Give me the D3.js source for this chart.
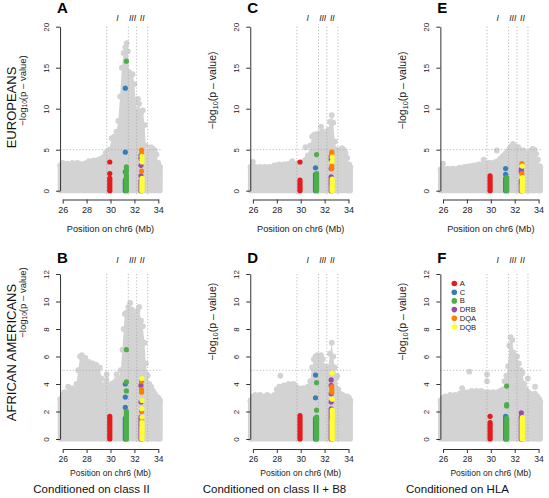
<!DOCTYPE html>
<html><head><meta charset="utf-8">
<script src="https://cdn.jsdelivr.net/npm/d3@7"></script>
<style>
body{margin:0;background:#fff;}
svg{display:block;font-family:"Liberation Sans",Arial,Helvetica,sans-serif;}
</style></head><body>
<svg id="chart" width="549" height="498"></svg>
<script>
// ---------------- DATA ----------------
const positionTicks = [26, 28, 30, 32, 34];
const yTicksEuropeans = [0, 5, 10, 15, 20];
const yTicksAfrican = [0, 2, 4, 6, 8, 10, 12];
const significanceLine = 5;
const regionBounds = [29.68, 31.49, 32.19, 33.11];
const regionLabels = ["I", "III", "II"];
const genes = ["A", "C", "B", "DRB", "DQA", "DQB"];
const genePositions = [29.94, 31.24, 31.33, 32.55, 32.60, 32.64];
const geneColors = ["#E41A1C", "#377EB8", "#4DAF4A", "#984EA3", "#FF7F00", "#FFFF33"];
const panelLetters = ["A", "B", "C", "D", "E", "F"];
const populations = ["EUROPEANS", "AFRICAN AMERICANS"];
const conditions = ["Conditioned on class II", "Conditioned on class II + B8", "Conditioned on HLA"];

// upper envelope of the grey SNP cloud: [position Mb, -log10 p]
const cloudA = [[25.8,3.1],[26.0,3.4],[26.2,3.2],[26.4,3.3],[26.6,3.0],[26.8,3.4],[27.0,3.2],[27.2,3.4],[27.4,3.3],[27.6,3.1],[27.8,3.3],[28.0,3.4],[28.2,3.6],[28.4,3.4],[28.6,3.7],[28.8,3.6],[29.0,3.8],[29.2,3.9],[29.4,4.1],[29.6,4.6],[29.75,4.0],[29.9,5.0],[30.1,6.4],[30.3,6.6],[30.5,7.2],[30.65,8.5],[30.8,11.5],[30.95,15.0],[31.1,16.8],[31.25,17.5],[31.35,18.0],[31.45,17.0],[31.55,14.5],[31.7,14.0],[31.85,14.2],[32.0,13.0],[32.1,11.0],[32.2,9.6],[32.3,11.2],[32.4,10.6],[32.55,9.4],[32.7,9.8],[32.85,8.0],[32.95,5.5],[33.1,4.3],[33.25,4.8],[33.4,5.3],[33.55,5.1],[33.7,4.9],[33.85,4.4],[34.0,3.4],[34.15,2.9]];
const cloudB = [[25.8,2.9],[26.0,3.2],[26.15,3.4],[26.3,3.3],[26.45,3.8],[26.6,3.4],[26.8,3.7],[27.0,3.6],[27.15,4.0],[27.3,5.0],[27.45,6.0],[27.6,6.1],[27.75,5.8],[27.9,5.9],[28.05,5.5],[28.2,5.6],[28.35,5.3],[28.5,5.5],[28.65,5.2],[28.8,5.4],[28.95,5.1],[29.1,5.2],[29.25,4.4],[29.4,3.7],[29.55,4.0],[29.8,3.9],[29.95,3.8],[30.1,4.0],[30.3,4.1],[30.5,4.3],[30.7,4.4],[30.85,5.0],[31.0,6.5],[31.1,8.0],[31.2,9.1],[31.35,9.2],[31.5,9.6],[31.65,9.9],[31.8,9.4],[31.95,9.0],[32.1,8.6],[32.25,9.3],[32.4,9.6],[32.55,8.6],[32.7,8.2],[32.85,7.0],[32.95,5.5],[33.1,4.6],[33.25,4.0],[33.4,3.8],[33.55,3.5],[33.7,3.3],[33.85,3.1],[34.0,3.0],[34.15,2.8]];
const cloudC = [[25.8,2.9],[26.0,3.0],[26.2,2.9],[26.4,2.8],[26.6,2.9],[26.8,2.8],[27.0,2.9],[27.2,2.8],[27.4,2.9],[27.6,2.8],[27.8,3.1],[28.0,3.1],[28.2,3.2],[28.4,3.1],[28.6,3.2],[28.8,3.2],[29.0,3.3],[29.2,3.2],[29.4,3.3],[29.6,3.2],[29.8,3.4],[30.0,3.3],[30.2,3.5],[30.4,3.8],[30.6,4.3],[30.8,5.5],[30.95,6.6],[31.1,6.8],[31.25,6.9],[31.4,6.7],[31.55,7.0],[31.7,7.8],[31.85,7.2],[32.0,6.6],[32.15,6.9],[32.3,7.4],[32.45,8.4],[32.6,9.2],[32.72,8.3],[32.85,6.0],[33.0,5.0],[33.15,4.4],[33.3,4.9],[33.45,5.2],[33.6,5.0],[33.75,4.6],[33.9,4.0],[34.05,3.2],[34.15,2.9]];
const cloudD = [[25.8,2.8],[26.0,3.1],[26.2,3.2],[26.4,3.1],[26.6,3.2],[26.8,3.0],[27.0,3.1],[27.2,3.2],[27.4,3.0],[27.6,3.1],[27.8,3.2],[28.0,3.6],[28.2,3.8],[28.4,3.7],[28.6,3.9],[28.8,3.8],[29.0,4.0],[29.2,3.9],[29.4,4.0],[29.6,3.8],[29.8,3.7],[30.0,3.6],[30.2,3.7],[30.4,3.6],[30.6,3.8],[30.8,4.2],[30.95,5.2],[31.1,5.8],[31.25,6.0],[31.4,6.1],[31.55,5.9],[31.7,6.1],[31.85,5.8],[32.0,5.3],[32.15,4.9],[32.3,5.2],[32.45,6.2],[32.6,7.0],[32.72,6.0],[32.85,5.2],[33.0,4.5],[33.15,3.6],[33.3,3.3],[33.5,3.2],[33.7,3.1],[33.9,3.1],[34.05,3.0],[34.15,2.8]];
const cloudE = [[25.8,2.6],[26.0,2.7],[26.2,2.6],[26.4,2.7],[26.6,2.6],[26.8,2.7],[27.0,2.6],[27.2,2.7],[27.4,2.8],[27.6,2.7],[27.8,2.9],[28.0,2.9],[28.2,3.0],[28.4,3.0],[28.6,3.1],[28.8,3.1],[29.0,3.2],[29.2,3.2],[29.4,3.2],[29.6,3.3],[29.8,3.4],[30.0,3.4],[30.2,3.3],[30.4,3.5],[30.6,3.6],[30.8,3.9],[31.0,4.2],[31.2,4.5],[31.4,4.8],[31.55,5.1],[31.7,5.4],[31.85,5.7],[32.0,5.5],[32.15,5.0],[32.3,5.3],[32.45,5.0],[32.6,4.8],[32.75,4.9],[32.9,4.6],[33.05,4.0],[33.2,4.4],[33.35,4.9],[33.5,5.1],[33.65,5.0],[33.8,4.5],[33.95,3.8],[34.1,3.0],[34.15,2.8]];
const cloudF = [[25.8,2.8],[26.0,3.0],[26.2,3.1],[26.4,3.0],[26.6,3.2],[26.8,3.1],[27.0,3.2],[27.2,3.1],[27.4,3.3],[27.6,3.7],[27.8,3.4],[28.0,3.3],[28.2,3.4],[28.4,3.5],[28.6,3.4],[28.8,3.5],[29.0,3.4],[29.2,3.5],[29.4,3.4],[29.6,3.3],[29.8,3.4],[30.0,3.3],[30.2,3.4],[30.4,3.3],[30.6,3.4],[30.8,3.5],[31.0,3.6],[31.15,4.2],[31.3,4.6],[31.45,5.3],[31.55,6.8],[31.65,7.4],[31.8,7.2],[31.9,6.3],[32.05,6.0],[32.2,6.0],[32.35,5.5],[32.5,5.0],[32.65,4.8],[32.8,4.0],[32.95,3.6],[33.1,3.4],[33.3,3.3],[33.5,3.2],[33.7,3.3],[33.9,3.1],[34.05,2.9],[34.15,2.7]];

// isolated grey SNPs above the cloud
const outliersA = [];
const outliersB = [[29.68,4.7],[29.68,4.3],[30.5,4.7],[33.05,4.7]];
const outliersC = [[26.0,3.5],[29.3,3.6],[30.4,5.3]];
const outliersD = [[28.3,4.6],[33.05,4.6]];
const outliersE = [[26.0,3.3],[29.4,3.8],[30.5,4.9]];
const outliersF = [[28.2,4.9],[29.68,4.7],[29.68,4.2],[33.1,4.4],[33.7,3.8]];

// HLA alleles per gene (order of genes): top of the dense stack, and single alleles above it
const denseA = [1.5, 1.3, 1.9, 1.2, 1.0, 1.5];
const dotsA = [[2.1, 3.5], [12.5, 4.7, 2.3], [15.8, 2.9, 2.6, 2.3], [4.3, 3.9, 3.1, 1.8], [4.95, 4.5, 2.4], [4.2, 3.8, 3.5]];
const denseB = [1.65, 1.5, 2.0, 1.6, 0.8, 1.2];
const dotsB = [[], [4.0, 3.05, 2.3], [6.5, 4.15, 3.5], [3.9, 2.7], [4.2, 3.6, 3.4, 2.0, 1.3], [4.4, 2.8, 2.2, 1.6]];
const denseC = [1.3, 2.0, 2.1, 1.7, 0.5, 1.4];
const dotsC = [[3.5], [2.8], [4.4], [4.2, 3.8, 2.7], [4.7, 4.4, 3.0, 2.7], [4.1, 3.6]];
const denseD = [1.7, 1.5, 1.6, 2.2, 1.3, 2.1];
const dotsD = [[], [4.65, 3.0], [4.1, 2.1], [4.3, 3.9, 3.3, 2.7], [3.8, 3.6, 3.4, 1.2], [4.8, 2.9]];
const denseE = [1.8, 1.5, 1.6, 1.2, 0.6, 1.6];
const dotsE = [[], [2.7, 2.0], [], [2.6, 2.3], [3.3, 2.1], [3.0]];
const denseF = [1.2, 1.5, 1.5, 1.6, 1.3, 1.55];
const dotsF = [[1.65], [1.65], [3.85, 2.5, 2.4], [1.9], [1.35], []];

const clouds = [cloudA, cloudB, cloudC, cloudD, cloudE, cloudF];
const outliers = [outliersA, outliersB, outliersC, outliersD, outliersE, outliersF];
const denses = [denseA, denseB, denseC, denseD, denseE, denseF];
const dots = [dotsA, dotsB, dotsC, dotsD, dotsE, dotsF];

// ---------------- LAYOUT ----------------
const svg = d3.select("#chart");
const FONT = '"Liberation Sans",Arial,Helvetica,sans-serif';
const GREY = "#D3D3D3";
const R = 2.6;
const colX26 = [62.7, 252.9, 443.0];
const figCenters = [91.5, 274.5, 457.5];
const mbWidth = 95.6; // 26 -> 34
const rowY = [{y0: 190.7, yMax: 26.7, axisY: 199.5, ticks: yTicksEuropeans},
              {y0: 439.0, yMax: 274.0, axisY: 449.0, ticks: yTicksAfrican}];

panelLetters.forEach((letter, i) => {
  const row = i % 2, col = Math.floor(i / 2);
  const L = rowY[row];
  const ticks = L.ticks;
  const x = d3.scaleLinear().domain([26, 34]).range([colX26[col], colX26[col] + mbWidth]);
  const y = d3.scaleLinear().domain([0, ticks[ticks.length - 1]]).range([L.y0, L.yMax]);
  const axisX = x(25.78);
  const g = svg.append("g");

  // grey cloud
  const cloud = clouds[i];
  const area = d3.area().x(d => x(d[0])).y0(y(0) + R).y1(d => y(d[1]));
  g.append("path").datum(cloud).attr("d", area).attr("fill", GREY);
  [cloud[0], cloud[cloud.length - 1]].forEach(d => {
    g.append("line").attr("x1", x(d[0])).attr("x2", x(d[0]))
      .attr("y1", y(0)).attr("y2", y(d[1]))
      .attr("stroke", GREY).attr("stroke-width", 2 * R).attr("stroke-linecap", "round");
  });
  g.selectAll(".cl").data(cloud).join("circle")
    .attr("cx", d => x(d[0])).attr("cy", d => y(d[1])).attr("r", R + 0.3).attr("fill", GREY);
  g.selectAll(".ol").data(outliers[i]).join("circle")
    .attr("cx", d => x(d[0])).attr("cy", d => y(d[1])).attr("r", R + 0.3).attr("fill", GREY);

  // reference lines
  const refStyle = sel => sel.attr("stroke", "#a8a8a8").attr("stroke-width", 0.8).attr("stroke-dasharray", "1.2,2");
  g.append("line").attr("x1", axisX).attr("x2", x(34.25))
    .attr("y1", y(significanceLine)).attr("y2", y(significanceLine)).call(refStyle);
  regionBounds.forEach(b => {
    g.append("line").attr("x1", x(b)).attr("x2", x(b))
      .attr("y1", L.yMax).attr("y2", y(0) + 4).call(refStyle);
  });

  // alleles
  genes.forEach((gname, k) => {
    const px = x(genePositions[k]);
    g.append("line").attr("x1", px).attr("x2", px)
      .attr("y1", y(0)).attr("y2", y(denses[i][k]))
      .attr("stroke", geneColors[k]).attr("stroke-width", 2 * R).attr("stroke-linecap", "round");
    g.selectAll(".g" + k).data(dots[i][k]).join("circle")
      .attr("cx", px).attr("cy", v => y(v)).attr("r", R).attr("fill", geneColors[k]);
  });

  // region labels
  regionLabels.forEach((lab, k) => {
    g.append("text").attr("x", x((regionBounds[k] + regionBounds[k + 1]) / 2))
      .attr("y", row === 0 ? 21 : 263).attr("text-anchor", "middle")
      .attr("font-size", 8.5).attr("font-style", "italic").attr("fill", "#222").text(lab);
  });

  // x axis
  const xa = g.append("g").attr("transform", `translate(0,${L.axisY})`)
    .call(d3.axisBottom(x).tickValues(positionTicks).tickSize(4).tickSizeOuter(0).tickPadding(3));
  xa.selectAll("text").attr("font-size", row === 0 ? 9 : 8.5).attr("font-family", FONT).attr("fill", "#222");
  xa.selectAll("path,line").attr("stroke", "#333");
  // y axis
  const ya = g.append("g").attr("transform", `translate(${axisX},0)`)
    .call(d3.axisLeft(y).tickValues(ticks).tickSize(4).tickSizeOuter(0));
  ya.selectAll("path,line").attr("stroke", "#333");
  ya.selectAll("text").attr("x", 0).attr("dy", 0).attr("text-anchor", "middle")
    .attr("transform", "translate(-11,0) rotate(-90)")
    .attr("font-size", 8).attr("font-family", FONT).attr("fill", "#222");

  // axis titles
  g.append("text").attr("x", x(30)).attr("y", row === 0 ? 231.5 : 476)
    .attr("text-anchor", "middle").attr("font-size", row === 0 ? 9.2 : 8.5).attr("fill", "#222")
    .text("Position on chr6 (Mb)");
  const fs = col === 0 ? 9.5 : 10.5;
  const ycen = row === 0 ? 90.5 : (col === 0 ? 302.5 : 321.7);
  const yt = g.append("text").attr("transform", `translate(${axisX - 38.5},${ycen}) rotate(-90)`)
    .attr("text-anchor", "middle").attr("dominant-baseline", "central").attr("font-size", fs).attr("fill", "#222");
  yt.append("tspan").text("\u2212log");
  yt.append("tspan").attr("font-size", fs * 0.7).attr("dy", fs * 0.3).text("10");
  yt.append("tspan").attr("font-size", fs).attr("dy", -fs * 0.3).text("(p \u2013 value)");

  // panel letter
  g.append("text").attr("x", axisX - 3).attr("y", row === 0 ? 13.3 : 262.7)
    .attr("font-size", 15).attr("font-weight", "bold").attr("fill", "#000").text(letter);

  if (row === 1) {
    g.append("text").attr("x", figCenters[col]).attr("y", 492.5)
      .attr("text-anchor", "middle").attr("font-size", 11.5).attr("fill", "#111").text(conditions[col]);
  }

  // legend in last panel
  if (i === 5) {
    genes.forEach((gname, k) => {
      const ly = 283.5 + k * 8.7;
      g.append("circle").attr("cx", 454.3).attr("cy", ly).attr("r", 2.8).attr("fill", geneColors[k]);
      g.append("text").attr("x", 459.7).attr("y", ly).attr("dominant-baseline", "central")
        .attr("font-size", 7.6).attr("fill", "#222").text(gname);
    });
  }
});

// population labels
[[11, 107.5], [11.5, 352.5]].forEach((p, k) => {
  svg.append("text").attr("transform", `translate(${p[0]},${p[1]}) rotate(-90)`)
    .attr("text-anchor", "middle").attr("dominant-baseline", "central")
    .attr("font-size", 13).attr("fill", "#111").text(populations[k]);
});
</script></body></html>
